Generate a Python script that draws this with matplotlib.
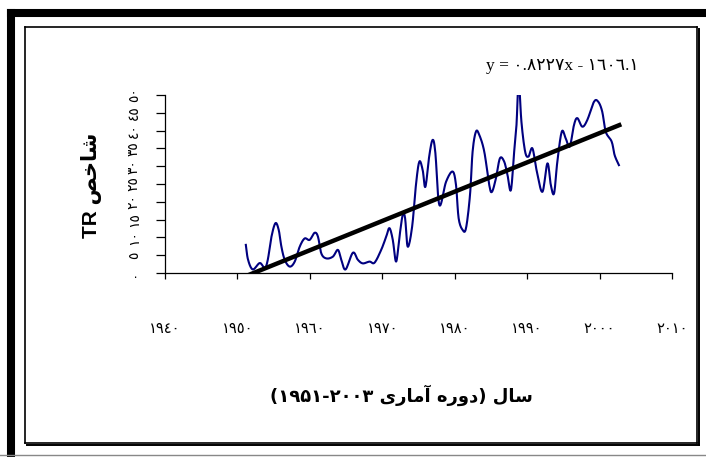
import matplotlib
matplotlib.use("Agg")
import matplotlib.pyplot as plt
from matplotlib.lines import Line2D
import numpy as np

# ---- data ----
years = [1951.16, 1951.47, 1952.12, 1953.09, 1953.77, 1954.19, 1954.70, 1955.25, 1955.70, 1956.07,
         1956.53, 1957.22, 1957.91, 1958.60, 1959.28, 1959.97, 1960.66, 1961.12, 1961.58, 1962.27,
         1963.18, 1963.87, 1964.34, 1964.93, 1965.94, 1966.63, 1967.31, 1968.24, 1968.93, 1969.85,
         1970.54, 1970.99, 1971.45, 1971.91, 1972.37, 1972.82, 1973.15, 1973.51, 1974.12, 1974.67,
         1975.12, 1975.58, 1975.95, 1976.50, 1976.96, 1977.33, 1977.88, 1978.80, 1979.71, 1980.18,
         1980.54, 1981.09, 1981.56, 1982.11, 1982.47, 1982.93, 1983.39, 1984.08, 1984.77, 1985.14,
         1985.69, 1986.24, 1986.83, 1987.29, 1987.76, 1988.21, 1988.53, 1988.72, 1988.90, 1989.21,
         1989.72, 1990.18, 1990.73, 1991.34, 1992.11, 1992.80, 1993.27, 1993.72, 1994.17, 1994.78,
         1995.33, 1995.88, 1996.47, 1996.93, 1997.62, 1998.31, 1999.23, 1999.82, 2000.37, 2000.84,
         2001.67, 2002.08, 2002.67]
tr_values = [7.9, 3.7, 1.0, 2.8, 1.4, 3.7, 10.2, 14.0, 12.1, 7.4,
             3.7, 1.8, 3.2, 7.4, 9.7, 9.3, 11.3, 10.2, 5.5, 4.1,
             4.6, 6.5, 3.7, 1.0, 5.7, 3.7, 2.7, 3.2, 2.9, 6.5,
             10.2, 12.6, 9.3, 3.2, 10.2, 16.3, 15.4, 7.4, 13.0, 25.2,
             31.3, 28.9, 24.2, 33.1, 37.4, 33.7, 19.1, 25.6, 28.5, 24.7,
             15.4, 12.1, 12.6, 21.9, 34.1, 39.7, 38.8, 34.1, 24.7, 22.8,
             26.6, 32.2, 31.3, 27.5, 23.3, 34.1, 41.6, 51.0, 53.0, 42.5,
             34.1, 32.7, 35.0, 28.5, 22.8, 30.8, 24.7, 22.4, 31.3, 39.7,
             37.8, 35.5, 41.6, 43.5, 41.1, 43.0, 48.1, 48.1, 45.3, 39.7,
             36.9, 33.1, 30.3]

trend_slope = 0.8227
trend_intercept = -1606.1
trend_years = [1951, 2003]

x_ticks = [1940, 1950, 1960, 1970, 1980, 1990, 2000, 2010]
x_tick_labels = ["١٩٤٠", "١٩٥٠", "١٩٦٠", "١٩٧٠", "١٩٨٠", "١٩٩٠", "٢٠٠٠", "٢٠١٠"]
y_ticks = [0, 5, 10, 15, 20, 25, 30, 35, 40, 45, 50]
y_tick_labels = ["٠", "٥", "١٠", "١٥", "٢٠", "٢٥", "٣٠", "٣٥", "٤٠", "٤٥", "٥٠"]

equation_text = "y = ٠.٨٢٢٧x - ١٦٠٦.١"
# visual (pre-shaped, left-to-right) forms of the Persian labels
word_sal = "\uFEDD\uFE8E\uFEB3"          # سال
word_doreh = "\uFEE9\uFEAD\uFEED\uFEA9"  # دوره
word_amari = "\uFEEF\uFEAD\uFE8E\uFEE3\uFE81"  # آماری
x_title = "(" + "\u06F1\u06F9\u06F5\u06F1" + "-" + "\u06F2\u06F0\u06F0\u06F3" + " " + word_amari + " " + word_doreh + ") " + word_sal
word_shakhes = "\uFEBA\uFEA7\uFE8E\uFEB7"  # شاخص
y_title = "TR " + word_shakhes


def smooth_curve(x, y, n=10):
    """Catmull-Rom smoothing (like a spreadsheet's smoothed line)."""
    x = np.asarray(x, float)
    y = np.asarray(y, float)
    px = np.concatenate([[2 * x[0] - x[1]], x, [2 * x[-1] - x[-2]]])
    py = np.concatenate([[2 * y[0] - y[1]], y, [2 * y[-1] - y[-2]]])
    t = np.linspace(0, 1, n, endpoint=False)
    ox, oy = [], []
    for i in range(1, len(px) - 2):
        for arr, out in ((px, ox), (py, oy)):
            p0, p1, p2, p3 = arr[i - 1], arr[i], arr[i + 1], arr[i + 2]
            out.extend(0.5 * ((2 * p1) + (-p0 + p2) * t + (2 * p0 - 5 * p1 + 4 * p2 - p3) * t ** 2
                              + (-p0 + 3 * p1 - 3 * p2 + p3) * t ** 3))
    ox.append(x[-1])
    oy.append(y[-1])
    return np.array(ox), np.array(oy)


# ---- figure ----
W, H = 706, 457
fig = plt.figure(figsize=(W / 100, H / 100), dpi=100)
fig.patch.set_facecolor("white")

def fx(px):
    return px / W

def fy(py):
    return 1 - py / H

ax = fig.add_axes([fx(165), fy(273), fx(672) - fx(165), fy(95) - fy(273)])
ax.set_facecolor("none")

sx, sy = smooth_curve(years, tr_values)
ax.plot(sx, sy, color="#000080", lw=1.5, solid_joinstyle="round", zorder=2)
ty = np.array(trend_years, dtype=float)
ax.plot(ty, trend_slope * ty + trend_intercept, color="black", lw=3.2, zorder=3,
        solid_capstyle="butt")

ax.set_xlim(1940, 2010)
ax.set_ylim(0, 50)
for s in ["top", "right"]:
    ax.spines[s].set_visible(False)
for s in ["left", "bottom"]:
    ax.spines[s].set_linewidth(0.9)
    ax.spines[s].set_color("black")

ax.set_xticks(x_ticks)
ax.set_xticklabels(x_tick_labels, fontsize=10.5, family=["DejaVu Sans"])
ax.set_yticks(y_ticks)
ax.set_yticklabels(y_tick_labels, fontsize=10, family=["DejaVu Sans"], rotation=90, va="center")
ax.tick_params(axis="x", direction="out", length=4.5, width=0.9, pad=30)
ax.tick_params(axis="y", direction="out", length=6.5, width=0.9, pad=11)

# equation
fig.text(fx(486), fy(66), equation_text, fontsize=12.5, ha="left", va="center",
         family=["Liberation Serif", "DejaVu Sans"])

# axis titles
fig.text(fx(401), fy(395), x_title, fontsize=13, fontweight="bold", ha="center", va="center",
         family=["DejaVu Sans"])
fig.text(fx(92), fy(185), y_title, fontsize=15, fontweight="bold", ha="center", va="center",
         rotation=90, family=["Liberation Sans", "DejaVu Sans"])

# frames
def fline(x0, y0, x1, y1, lw, color="black"):
    fig.add_artist(Line2D([fx(x0), fx(x1)], [fy(y0), fy(y1)], lw=lw, color=color,
                          solid_capstyle="projecting", transform=fig.transFigure))

# outer thick border (left and top)
fline(11, 13, 11, 457, 5.8)
fline(11, 13, 706, 13, 5.8)
# inner frame
fline(25, 27, 697, 27, 1.2)
fline(25, 27, 25, 443, 1.2)
fline(25, 443, 697, 443, 1.2)
fline(697, 27, 697, 443, 1.2)
# shadow
fline(698.5, 29, 698.5, 444.5, 1.4)
fline(27, 444.5, 698.5, 444.5, 1.4)
# bottom grey line
fline(0, 455, 706, 455, 1.0, color="#888888")

fig.savefig("out.png", dpi=100, facecolor="white")
